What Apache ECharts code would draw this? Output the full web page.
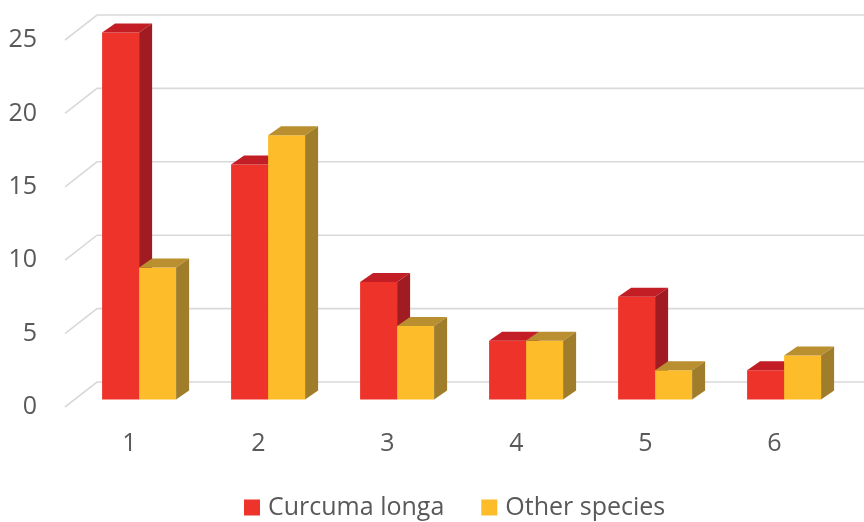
<!DOCTYPE html>
<html>
<head>
<meta charset="utf-8">
<script src="https://cdn.jsdelivr.net/npm/echarts@6/dist/echarts.min.js"></script>
<style>
  html, body { margin: 0; padding: 0; background: #ffffff; }
  #chart { width: 864px; height: 522px; }
</style>
</head>
<body>
<div id="chart"></div>
<script>
// Categories and values
const categories = ['1', '2', '3', '4', '5', '6'];
const curcumaLonga = [25, 16, 8, 4, 7, 2];
const otherSpecies = [9, 18, 5, 4, 2, 3];
const yTicks = [0, 5, 10, 15, 20, 25];

// Perspective of the pseudo-3D box
const WALL_DX = 32, WALL_DY = -25;     // front plane -> back wall
const BAR_DX = 9.6, BAR_DY = -7.5;     // front plane -> bar front face
const DEPTH_DX = 13, DEPTH_DY = -9;    // bar depth
const BAR_W = 37;

const palettes = [
  { front: '#EE332B', top: '#C31E25', side: '#A11B22' },
  { front: '#FDBC2A', top: '#BA8F30', side: '#A07D2A' }
];

function barRenderer(seriesIdx) {
  const pal = palettes[seriesIdx];
  return function (params, api) {
    const cat = api.value(0);
    const val = api.value(1);
    const top = api.coord([cat, val]);
    const base = api.coord([cat, 0]);
    const cx = top[0] + BAR_DX + (seriesIdx === 0 ? -BAR_W / 2 : BAR_W / 2);
    const x0 = cx - BAR_W / 2, x1 = cx + BAR_W / 2;
    const yT = top[1] + BAR_DY, yB = base[1] + BAR_DY;
    return {
      type: 'group',
      children: [
        { type: 'rect', shape: { x: x0, y: yT, width: BAR_W, height: yB - yT },
          style: { fill: pal.front } },
        { type: 'polygon', shape: { points: [[x0, yT], [x1, yT], [x1 + DEPTH_DX, yT + DEPTH_DY], [x0 + DEPTH_DX, yT + DEPTH_DY]] },
          style: { fill: pal.top } },
        { type: 'polygon', shape: { points: [[x1, yT], [x1, yB], [x1 + DEPTH_DX, yB + DEPTH_DY], [x1 + DEPTH_DX, yT + DEPTH_DY]] },
          style: { fill: pal.side } }
      ]
    };
  };
}

function gridRenderer(params, api) {
  const cs = params.coordSys;
  const p = api.coord([0, api.value(0)]);
  const y = p[1];
  const xl = cs.x;
  return {
    type: 'polyline',
    shape: { points: [[xl, y], [xl + WALL_DX, y + WALL_DY], [cs.x + cs.width + WALL_DX, y + WALL_DY]] },
    style: { stroke: '#D9D9D9', lineWidth: 1.6, fill: null }
  };
}

const chart = echarts.init(document.getElementById('chart'), null, { renderer: 'canvas' });
const fontFamily = 'Open Sans, Noto Sans, sans-serif';

chart.setOption({
  animation: false,
  backgroundColor: '#ffffff',
  grid: { left: 65, right: 25, top: 40, bottom: 115 },
  legend: {
    top: 490,
    left: 239,
    itemWidth: 16,
    itemHeight: 16,
    itemGap: 37,
    icon: 'rect',
    textStyle: { color: '#595959', fontSize: 25, fontFamily: fontFamily, padding: [0, 0, 0, 3] },
    data: ['Curcuma longa', 'Other species']
  },
  xAxis: {
    type: 'category',
    data: categories,
    axisLine: { show: false },
    axisTick: { show: false },
    axisLabel: { color: '#595959', fontSize: 25, fontFamily: fontFamily, margin: 24 }
  },
  yAxis: {
    type: 'value',
    min: 0,
    max: 25,
    interval: 5,
    splitLine: { show: false },
    axisLine: { show: false },
    axisTick: { show: false },
    axisLabel: { color: '#595959', fontSize: 25, fontFamily: fontFamily, margin: 28 }
  },
  series: [
    {
      type: 'custom',
      silent: true,
      renderItem: gridRenderer,
      data: yTicks.map(v => [v]),
      encode: { y: 0 },
      z: 1
    },
    {
      name: 'Curcuma longa',
      type: 'custom',
      itemStyle: { color: palettes[0].front },
      renderItem: barRenderer(0),
      data: curcumaLonga.map((v, i) => [i, v]),
      encode: { x: 0, y: 1 },
      z: 2
    },
    {
      name: 'Other species',
      type: 'custom',
      itemStyle: { color: palettes[1].front },
      renderItem: barRenderer(1),
      data: otherSpecies.map((v, i) => [i, v]),
      encode: { x: 0, y: 1 },
      z: 3
    }
  ]
});
</script>
</body>
</html>
